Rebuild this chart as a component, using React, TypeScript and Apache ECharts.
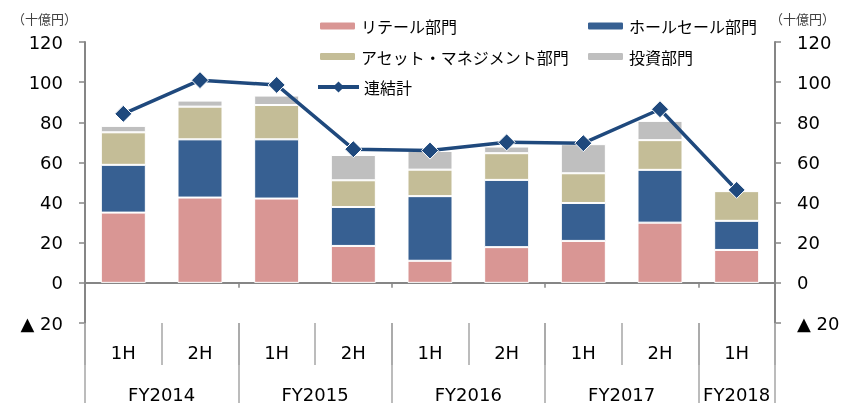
import React, { useEffect, useRef } from 'react';
import * as echarts from 'echarts';

const categories = ['FY2014 1H', 'FY2014 2H', 'FY2015 1H', 'FY2015 2H', 'FY2016 1H', 'FY2016 2H', 'FY2017 1H', 'FY2017 2H', 'FY2018 1H'];
const halfLabels = ['1H', '2H', '1H', '2H', '1H', '2H', '1H', '2H', '1H'];
const fyLabels = ['FY2014', 'FY2015', 'FY2016', 'FY2017', 'FY2018'];
const fySpans = [2, 2, 2, 2, 1];

const retail = [35.0, 42.5, 42.0, 18.4, 11.0, 17.8, 20.9, 30.0, 16.4];
const wholesale = [23.8, 29.0, 29.5, 19.4, 32.2, 33.5, 18.9, 26.3, 14.5];
const assetMgmt = [16.2, 16.3, 17.1, 13.3, 13.2, 13.3, 14.8, 14.8, 14.8];
const investment = [3.2, 3.0, 4.7, 12.6, 9.3, 3.3, 14.5, 9.6, 0];
const consolidated = [84.2, 101.0, 98.6, 66.6, 65.9, 70.0, 69.6, 86.5, 46.3];

const yMin = -20;
const yMax = 120;
const yInterval = 20;
const unitLabel = '（十億円）';

const NUM_FONT = "'DejaVu Sans', 'Noto Sans CJK JP', sans-serif";
const JP_FONT = "'Noto Sans CJK JP', sans-serif";

export default function App() {
  const ref = useRef<HTMLDivElement>(null);

  useEffect(() => {
    if (!ref.current) return;
    const chart = echarts.init(ref.current, undefined, { renderer: 'svg' });

    // fiscal-year axis built on half-band points
    const totalHalves = fySpans.reduce((a, b) => a + b, 0);
    const fyPoints: string[] = new Array(totalHalves * 2 + 1).fill('');
    const fyTickIdx: number[] = [0];
    let start = 0;
    fySpans.forEach((span, i) => {
      fyPoints[start * 2 + span] = fyLabels[i];
      start += span;
      fyTickIdx.push(start * 2);
    });

    const axisGray = '#868686';
    const sepGray = '#a6a6a6';
    const lineColor = '#1f497d';
    const fmt = (v: number) => (v < 0 ? '▲ ' + Math.abs(v) : String(v));

    const barSeries = (name: string, data: number[], color: string) => ({
      name,
      type: 'bar',
      stack: 'total',
      data,
      barWidth: 45,
      itemStyle: { color, borderColor: '#ffffff', borderWidth: 1 },
      xAxisIndex: 0,
      yAxisIndex: 0,
    });

    const yAxisCommon = {
      type: 'value',
      min: yMin,
      max: yMax,
      interval: yInterval,
      splitLine: { show: false },
      axisLine: { show: true, lineStyle: { color: axisGray, width: 2 } },
      axisTick: { show: true, length: 6, lineStyle: { color: axisGray, width: 1.5 } },
      axisLabel: { formatter: fmt, fontSize: 18, color: '#000', fontFamily: NUM_FONT, margin: 22 },
    };

    const legendCommon = {
      orient: 'vertical',
      top: 12,
      itemWidth: 37,
      itemHeight: 9,
      itemGap: 12.5,
      textStyle: { fontSize: 16, lineHeight: 18, color: '#000', fontFamily: JP_FONT },
    };

    chart.setOption({
      animation: false,
      grid: { left: 85, right: 71, top: 42, bottom: 80, containLabel: false },
      legend: [
        {
          ...legendCommon,
          left: 313,
          data: ['リテール部門', 'アセット・マネジメント部門'],
        },
        {
          ...legendCommon,
          left: 581,
          data: ['ホールセール部門', '投資部門'],
        },
        {
          ...legendCommon,
          left: 311,
          top: 73,
          itemWidth: 41,
          itemHeight: 14,
          data: [
            {
              name: '連結計',
              lineStyle: { width: 4, color: lineColor },
              itemStyle: { color: lineColor, borderWidth: 0 },
            },
          ],
        },
      ],
      graphic: [
        { type: 'text', left: 12, top: 12, style: { text: unitLabel, fontSize: 13, fill: '#404040', fontFamily: JP_FONT } },
        { type: 'text', left: 770, top: 12, style: { text: unitLabel, fontSize: 13, fill: '#404040', fontFamily: JP_FONT } },
      ],
      xAxis: [
        {
          type: 'category',
          data: categories,
          position: 'bottom',
          axisLine: { show: true, onZero: true, lineStyle: { color: axisGray, width: 2 } },
          axisTick: { show: true, length: 5, lineStyle: { color: axisGray, width: 1.5 } },
          axisLabel: { show: false },
          splitLine: { show: false },
        },
        {
          type: 'category',
          data: halfLabels,
          position: 'bottom',
          axisLine: { show: false, onZero: false },
          axisTick: { show: true, interval: 0, length: 42, lineStyle: { color: sepGray, width: 1.5 } },
          axisLabel: { interval: 0, fontSize: 18, color: '#000', fontFamily: NUM_FONT, margin: 20 },
          splitLine: { show: false },
        },
        {
          type: 'category',
          data: fyPoints,
          boundaryGap: false,
          position: 'bottom',
          axisLine: { show: false, onZero: false },
          axisTick: {
            show: true,
            interval: (i: number) => fyTickIdx.includes(i),
            length: 80,
            lineStyle: { color: sepGray, width: 1.5 },
          },
          axisLabel: {
            interval: (i: number, v: string) => v !== '',
            fontSize: 18,
            lineHeight: 14,
            color: '#000',
            fontFamily: NUM_FONT,
            margin: 64,
          },
          splitLine: { show: false },
        },
      ],
      yAxis: [
        { ...yAxisCommon, position: 'left' },
        { ...yAxisCommon, position: 'right' },
      ],
      series: [
        barSeries('リテール部門', retail, '#d99694'),
        barSeries('ホールセール部門', wholesale, '#376092'),
        barSeries('アセット・マネジメント部門', assetMgmt, '#c4bd97'),
        barSeries('投資部門', investment, '#bfbfbf'),
        {
          name: '連結計',
          type: 'line',
          data: consolidated,
          xAxisIndex: 0,
          yAxisIndex: 0,
          symbol: 'diamond',
          symbolSize: 17,
          lineStyle: { color: lineColor, width: 3.5 },
          itemStyle: { color: lineColor, borderColor: '#ffffff', borderWidth: 1 },
        },
      ],
    });

    return () => chart.dispose();
  }, []);

  return <div ref={ref} style={{ position: 'fixed', left: 0, top: 0, width: 846, height: 403 }} />;
}
